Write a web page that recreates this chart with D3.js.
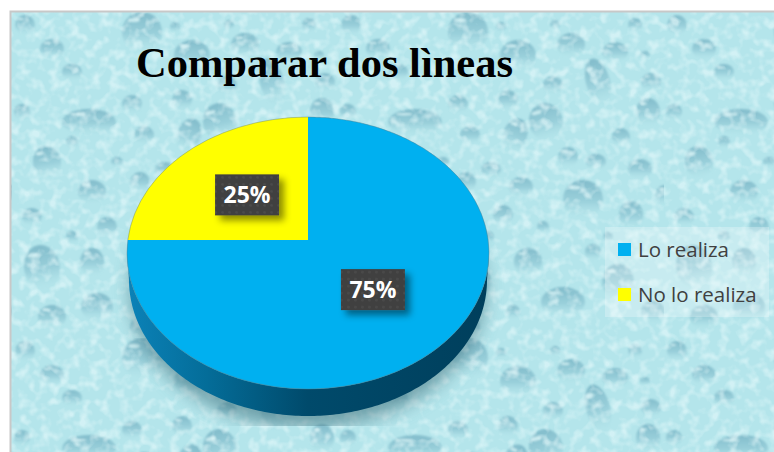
<!DOCTYPE html>
<html>
<head>
<meta charset="utf-8">
<script src="https://cdn.jsdelivr.net/npm/d3@7"></script>
<style>
  html, body { margin: 0; padding: 0; background: #fff; }
  svg { display: block; }
</style>
</head>
<body>
<svg width="774" height="452"></svg>
<script>
// chart values
var categories = ["Lo realiza", "No lo realiza"];
var values = [75, 25];
var colors = ["#00b0f0", "#ffff00"];
var titleText = "Comparar dos lìneas";

// background droplets, one tile of the wallpaper: cx, cy, rx, ry, rotation
var drops = [
  [130,20,20,20,0],[180,43,18,15,0],[233,33,14,12,0],[277,40,13,10,0],[260,70,12,24,-15],
  [215,73,10,9,0],[313,70,10,9,0],[170,88,10,10,0],[120,92,10,9,0],[77,110,27,13,0],
  [208,110,17,19,-15],[177,123,12,17,20],[310,100,12,14,0],[132,123,10,9,0],[283,125,9,9,0],
  [230,145,10,10,0],[258,150,10,8,0],[302,157,12,10,0],[153,158,10,8,0],[183,175,12,10,0],
  [128,170,10,10,0],[245,187,20,19,0],[293,203,12,14,0],[165,203,10,10,0],[327,183,10,10,0],
  [40,37,12,10,0],[13,13,10,10,0],[297,13,7,7,0],[217,13,5,5,0],[163,15,5,5,0],
  [307,43,5,4,0],[80,250,12,14,0],[30,255,18,22,-10],[85,295,16,14,0],[135,270,18,20,0],
  [190,250,14,14,0],[225,290,22,15,0],[40,305,14,12,0],[130,315,12,10,0],[280,270,16,18,0],
  [315,300,12,11,0],[255,240,8,8,0],[60,60,10,8,0],[35,150,14,16,-10],[80,180,14,12,0],
  [20,205,10,9,0],[95,215,10,10,0],[60,130,6,6,0],[105,150,6,5,0],[205,215,6,6,0],
  [150,225,6,6,0],[270,225,5,5,0],[10,100,8,8,0],[60,225,6,6,0],[175,300,7,7,0]
];

var svg = d3.select("svg"),
    width = +svg.attr("width"),
    height = +svg.attr("height");

var defs = svg.append("defs");

var dropGrad = defs.append("linearGradient")
    .attr("id", "dropFill")
    .attr("x1", 0).attr("y1", 0).attr("x2", 0).attr("y2", 1);
dropGrad.append("stop").attr("offset", "0%").attr("stop-color", "#82bccb");
dropGrad.append("stop").attr("offset", "55%").attr("stop-color", "#9ad0db");
dropGrad.append("stop").attr("offset", "100%").attr("stop-color", "#b4e4ea").attr("stop-opacity", 0.2);

var sideGrad = defs.append("linearGradient")
    .attr("id", "sideFill")
    .attr("x1", 0).attr("y1", 0).attr("x2", 1).attr("y2", 0);
sideGrad.append("stop").attr("offset", "0%").attr("stop-color", "#0b82b8");
sideGrad.append("stop").attr("offset", "22%").attr("stop-color", "#046d99");
sideGrad.append("stop").attr("offset", "50%").attr("stop-color", "#004a6b");
sideGrad.append("stop").attr("offset", "100%").attr("stop-color", "#003f5c");

var soft = defs.append("filter").attr("id", "soft");
soft.append("feGaussianBlur").attr("stdDeviation", 0.9);

var tile = defs.append("pattern")
    .attr("id", "wallpaper")
    .attr("patternUnits", "userSpaceOnUse")
    .attr("x", 12).attr("y", 12)
    .attr("width", 326).attr("height", 326);
tile.append("rect").attr("width", 326).attr("height", 326).attr("fill", "#b4e5eb");

var dropG = tile.append("g")
    .attr("filter", "url(#soft)")
    .selectAll("g")
    .data(drops)
  .enter().append("g")
    .attr("transform", function(d) { return "translate(" + d[0] + "," + d[1] + ") rotate(" + d[4] + ")"; });
dropG.append("ellipse")
    .attr("rx", function(d) { return d[2]; })
    .attr("ry", function(d) { return d[3]; })
    .attr("fill", "url(#dropFill)");
dropG.append("ellipse")
    .attr("cx", function(d) { return -d[2] * 0.4; })
    .attr("cy", function(d) { return -d[3] * 0.6; })
    .attr("rx", function(d) { return d[2] * 0.3; })
    .attr("ry", function(d) { return d[3] * 0.1; })
    .attr("fill", "#dcf7f8")
    .attr("opacity", 0.75);

var grain = defs.append("filter").attr("id", "grain")
    .attr("x", 0).attr("y", 0).attr("width", 1).attr("height", 1);
grain.append("feTurbulence")
    .attr("type", "fractalNoise")
    .attr("baseFrequency", 0.1)
    .attr("numOctaves", 2)
    .attr("seed", 7);
grain.append("feColorMatrix")
    .attr("values", "0 0 0 0 0.80  0 0 0 0 0.96  0 0 0 0 0.97  3 0 0 0 -1.35");

var blurShadow = defs.append("filter").attr("id", "pieShadow")
    .attr("x", "-20%").attr("y", "-20%").attr("width", "140%").attr("height", "140%");
blurShadow.append("feGaussianBlur").attr("stdDeviation", 9);

var labelShadow = defs.append("filter").attr("id", "labelShadow")
    .attr("x", "-30%").attr("y", "-30%").attr("width", "170%").attr("height", "170%");
labelShadow.append("feDropShadow")
    .attr("dx", 5).attr("dy", 5)
    .attr("stdDeviation", 3.5)
    .attr("flood-color", "#000")
    .attr("flood-opacity", 0.45);

var dots = defs.append("pattern")
    .attr("id", "labelDots")
    .attr("patternUnits", "userSpaceOnUse")
    .attr("width", 7).attr("height", 7);
dots.append("rect").attr("width", 7).attr("height", 7).attr("fill", "#404040");
dots.append("circle").attr("cx", 3.5).attr("cy", 3.5).attr("r", 1.3).attr("fill", "#4c4c4c");

var clip = defs.append("clipPath").attr("id", "shadowClip");
clip.append("rect").attr("x", 0).attr("y", 0).attr("width", width).attr("height", 426);

// page frame and wallpaper
svg.append("rect")
    .attr("x", 11).attr("y", 12)
    .attr("width", width - 11).attr("height", height - 12)
    .attr("fill", "url(#wallpaper)");
svg.append("rect")
    .attr("x", 11).attr("y", 12)
    .attr("width", width - 11).attr("height", height - 12)
    .attr("filter", "url(#grain)")
    .attr("opacity", 0.6);
svg.append("path")
    .attr("d", "M10.5," + height + "V11.5H" + width)
    .attr("fill", "none")
    .attr("stroke", "#c8c8c8")
    .attr("stroke-width", 2);

// pie geometry: tilted disc, hub sits above the ellipse centre
var cx = 308, cy = 253, rx = 181, ry = 136, depth = 27;
var hub = [308, 240];
var rayY = 130;
var labelRx = 89, labelRy = 67;
var labelShift = [2, 2.25];

var tau = 2 * Math.PI;
var pie = d3.pie().sort(null).startAngle(0).endAngle(tau);
var arcs = pie(values);

function rimPoint(a) {
  var dx = Math.sin(a) * rx,
      dy = -Math.cos(a) * rayY,
      ox = hub[0] - cx,
      oy = hub[1] - cy,
      A = dx * dx / (rx * rx) + dy * dy / (ry * ry),
      B = 2 * (ox * dx / (rx * rx) + oy * dy / (ry * ry)),
      C = ox * ox / (rx * rx) + oy * oy / (ry * ry) - 1,
      t = (-B + Math.sqrt(B * B - 4 * A * C)) / (2 * A);
  return [hub[0] + t * dx, hub[1] + t * dy];
}

var line = d3.line();
var wedge = function(d) {
  var n = Math.ceil((d.endAngle - d.startAngle) / 0.01);
  var pts = d3.range(n + 1).map(function(i) {
    return rimPoint(d.startAngle + (d.endAngle - d.startAngle) * i / n);
  });
  return line([hub].concat(pts)) + "Z";
};

// soft shadow under the disc
svg.append("g")
    .attr("clip-path", "url(#shadowClip)")
  .append("ellipse")
    .attr("cx", cx).attr("cy", cy + depth + 10)
    .attr("rx", rx - 4).attr("ry", ry + 2)
    .attr("fill", "#3c6f7c")
    .attr("opacity", 0.6)
    .attr("filter", "url(#pieShadow)");

// side wall, front half of the ellipse pushed down by the depth
var frontAngles = d3.range(0, 181).map(function(i) { return i * Math.PI / 180; });
var upper = frontAngles.map(function(a) { return [cx + rx * Math.cos(a), cy + ry * Math.sin(a)]; });
var lower = frontAngles.slice().reverse().map(function(a) {
  return [cx + (rx - 2) * Math.cos(a), cy + ry * Math.sin(a) + depth];
});
svg.append("path")
    .attr("d", line(upper.concat(lower)) + "Z")
    .attr("fill", "url(#sideFill)");

svg.append("g")
    .selectAll("path")
    .data(arcs)
  .enter().append("path")
    .attr("d", wedge)
    .attr("fill", function(d, i) { return colors[i]; });

svg.append("ellipse")
    .attr("cx", cx).attr("cy", cy)
    .attr("rx", rx).attr("ry", ry)
    .attr("fill", "none")
    .attr("stroke", "#5f7f88")
    .attr("stroke-width", 0.6)
    .attr("stroke-opacity", 0.7);

// data labels
var labelW = 64, labelH = 41;
var labels = svg.append("g")
    .selectAll("g")
    .data(arcs)
  .enter().append("g")
    .attr("transform", function(d) {
      var mid = (d.startAngle + d.endAngle) / 2;
      var x = hub[0] + labelShift[0] + Math.sin(mid) * labelRx,
          y = hub[1] + labelShift[1] - Math.cos(mid) * labelRy;
      return "translate(" + x + "," + y + ")";
    });
labels.append("rect")
    .attr("x", -labelW / 2).attr("y", -labelH / 2)
    .attr("width", labelW).attr("height", labelH)
    .attr("fill", "url(#labelDots)")
    .attr("filter", "url(#labelShadow)");
labels.append("text")
    .attr("text-anchor", "middle")
    .attr("dy", "0.36em")
    .attr("font-family", "'Open Sans', sans-serif")
    .attr("font-weight", 700)
    .attr("font-size", 23)
    .attr("fill", "#fff")
    .text(function(d) { return d.value + "%"; });

// title
svg.append("text")
    .attr("x", 136).attr("y", 77)
    .attr("font-family", "'Liberation Serif', serif")
    .attr("font-weight", 700)
    .attr("font-size", 42.5)
    .attr("fill", "#000")
    .text(titleText);

// legend
svg.append("rect")
    .attr("x", 605).attr("y", 227)
    .attr("width", 164).attr("height", 90)
    .attr("fill", "#fff")
    .attr("opacity", 0.25);
var legendY = d3.scalePoint().domain(categories).range([249.5, 294.5]);
var legend = svg.append("g")
    .selectAll("g")
    .data(categories)
  .enter().append("g")
    .attr("transform", function(d) { return "translate(618," + legendY(d) + ")"; });
legend.append("rect")
    .attr("y", -6.5)
    .attr("width", 13).attr("height", 13)
    .attr("fill", function(d, i) { return colors[i]; });
legend.append("text")
    .attr("x", 20)
    .attr("dy", "0.35em")
    .attr("font-family", "'Open Sans', sans-serif")
    .attr("font-size", 20.5)
    .attr("fill", "#404040")
    .text(function(d) { return d; });
</script>
</body>
</html>
